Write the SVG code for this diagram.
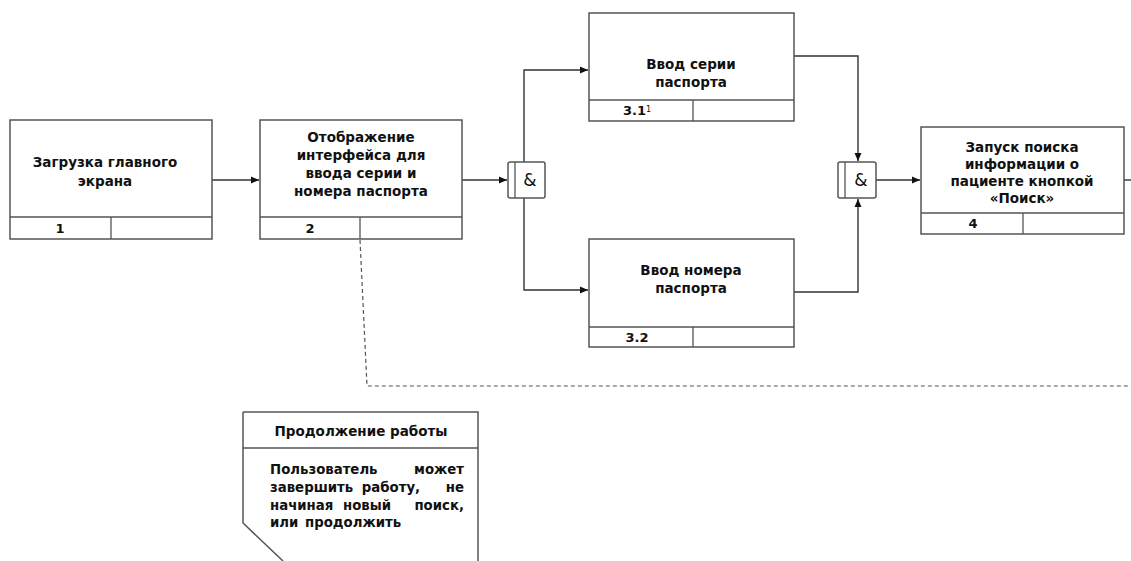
<svg xmlns="http://www.w3.org/2000/svg" width="1131" height="561" viewBox="0 0 1131 561">
<style>
.box{fill:#fff;stroke:#555;stroke-width:1.5}
.div{stroke:#555;stroke-width:1.3;fill:none}
.t{font-family:"DejaVu Sans",Verdana,sans-serif;font-weight:bold;font-size:13.5px;fill:#111;text-anchor:middle}
.n{font-family:"DejaVu Sans",Verdana,sans-serif;font-weight:bold;font-size:13px;fill:#111;text-anchor:middle}
.b{font-family:"DejaVu Sans",Verdana,sans-serif;font-weight:bold;font-size:13.3px;fill:#111}
.amp{font-family:"DejaVu Sans",sans-serif;font-size:17px;fill:#111;text-anchor:middle}
.c{stroke:#333;stroke-width:1.4;fill:none}
.d{stroke:#555;stroke-width:1.2;fill:none;stroke-dasharray:4 3}
</style>
<defs>
<marker id="ah" markerWidth="9" markerHeight="8" refX="8" refY="4" orient="auto" markerUnits="userSpaceOnUse">
<path d="M0,0.5 L8,4 L0,7.5 Z" fill="#111"/>
</marker>
</defs>
<g id="connectors">
<path class="c" d="M212,180 L259,180" marker-end="url(#ah)"/>
<path class="c" d="M462,180 L507,180" marker-end="url(#ah)"/>
<path class="c" d="M524,162 L524,70 L588,70" marker-end="url(#ah)"/>
<path class="c" d="M524,198 L524,290 L588,290" marker-end="url(#ah)"/>
<path class="c" d="M794,56 L858,56 L858,161" marker-end="url(#ah)"/>
<path class="c" d="M794,292 L858,292 L858,199" marker-end="url(#ah)"/>
<path class="c" d="M876,180 L920,180" marker-end="url(#ah)"/>
<path class="c" d="M1124,180 L1131,180"/>
<path class="d" d="M360,240 L367,386 L1131,386"/>
</g>
<g id="node1">
<rect class="box" x="10" y="120" width="202" height="119"/>
<path class="div" d="M10,217 H212 M111,217 V239"/>
<text class="t" x="105" y="167">Загрузка главного</text>
<text class="t" x="105" y="186">экрана</text>
<text class="n" x="60" y="233">1</text>
</g>
<g id="node2">
<rect class="box" x="260" y="120" width="202" height="119"/>
<path class="div" d="M260,217 H462 M360,217 V239"/>
<text class="t" x="361" y="142">Отображение</text>
<text class="t" x="361" y="160">интерфейса для</text>
<text class="t" x="361" y="178">ввода серии и</text>
<text class="t" x="361" y="196">номера паспорта</text>
<text class="n" x="310" y="233">2</text>
</g>
<g id="gate1">
<rect class="box" x="508" y="162" width="37" height="36" rx="2"/>
<path class="div" d="M515,162 V198"/>
<text class="amp" x="530" y="186">&amp;</text>
</g>
<g id="node31">
<rect class="box" x="589" y="13" width="205" height="108"/>
<path class="div" d="M589,100 H794 M693,100 V121"/>
<text class="t" x="691" y="69">Ввод серии</text>
<text class="t" x="691" y="87">паспорта</text>
<text class="n" x="637" y="115">3.1<tspan font-size="8" font-weight="normal" dy="-3">1</tspan></text>
</g>
<g id="node32">
<rect class="box" x="589" y="239" width="205" height="108"/>
<path class="div" d="M589,327 H794 M693,327 V347"/>
<text class="t" x="691" y="275">Ввод номера</text>
<text class="t" x="691" y="293">паспорта</text>
<text class="n" x="637" y="342">3.2</text>
</g>
<g id="gate2">
<rect class="box" x="838" y="162" width="38" height="36" rx="2"/>
<path class="div" d="M845,162 V198"/>
<text class="amp" x="861" y="186">&amp;</text>
</g>
<g id="node4">
<rect class="box" x="921" y="127" width="203" height="107"/>
<path class="div" d="M921,213 H1124 M1023,213 V234"/>
<text class="t" x="1022" y="152">Запуск поиска</text>
<text class="t" x="1022" y="169">информации о</text>
<text class="t" x="1022" y="186">пациенте кнопкой</text>
<text class="t" x="1022" y="203">«Поиск»</text>
<text class="n" x="973" y="228">4</text>
</g>
<g id="note">
<path class="box" d="M243,412 H478 V561 M243,412 V523 L283,561"/>
<path class="div" d="M243,448 H478"/>
<text class="t" x="361" y="436">Продолжение работы</text>
<text class="b" x="270" y="474">Пользователь</text>
<text class="b" x="464" y="474" text-anchor="end">может</text>
<text class="b" x="270" y="492">завершить</text>
<text class="b" x="391" y="492" text-anchor="middle">работу,</text>
<text class="b" x="464" y="492" text-anchor="end">не</text>
<text class="b" x="270" y="510">начиная</text>
<text class="b" x="367" y="510" text-anchor="middle">новый</text>
<text class="b" x="464" y="510" text-anchor="end">поиск,</text>
<text class="b" x="270" y="527" word-spacing="2">или продолжить</text>
</g>
</svg>
